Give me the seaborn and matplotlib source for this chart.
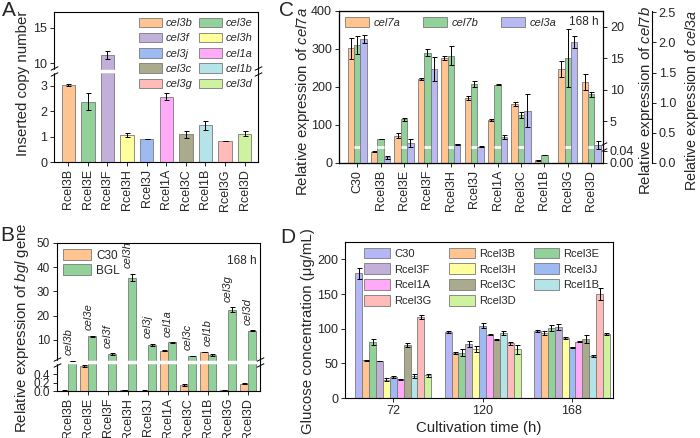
import numpy as np
import pandas as pd
import matplotlib
matplotlib.use("Agg")
import matplotlib.pyplot as plt
from matplotlib.patches import Patch
from matplotlib.path import Path
import seaborn as sns

sns.set_style("ticks")
plt.rcParams["font.family"] = ["Liberation Sans", "DejaVu Sans"]
plt.rcParams["mathtext.fontset"] = "custom"
plt.rcParams["mathtext.rm"] = "Liberation Sans"
plt.rcParams["mathtext.it"] = "Liberation Sans:italic"
plt.rcParams["axes.linewidth"] = 0.8
plt.rcParams["axes.edgecolor"] = "black"

# -----------------------------
# data
# -----------------------------
strains = ["Rcel3B", "Rcel3E", "Rcel3F", "Rcel3H", "Rcel3J",
           "Rcel1A", "Rcel3C", "Rcel1B", "Rcel3G", "Rcel3D"]
genes = ["cel3b", "cel3e", "cel3f", "cel3h", "cel3j",
         "cel1a", "cel3c", "cel1b", "cel3g", "cel3d"]
strain_colors = ["#FFC48F", "#92D29A", "#C2B0DA", "#FFFF9C", "#9DBAF2",
                 "#FFAAF6", "#AAAA8C", "#B4E3E8", "#FFBABA", "#CEF29E"]
c30_color = "#B4B6F6"

# A: inserted copy number
copy_num = [3.02, 2.37, 11.2, 1.06, 0.91, 2.57, 1.09, 1.44, 0.83, 1.12]
copy_err = [0.05, 0.32, 0.6, 0.07, 0.01, 0.15, 0.13, 0.17, 0.01, 0.08]

# B: bgl expression, 168 h
bgl_c30 = [0.01, 0.6, 0.0, 0.02, 0.01, 5.5, 0.15, 5.0, 0.02, 0.18]
bgl_c30_err = [0.005, 0.03, 0.0, 0.005, 0.005, 0.1, 0.03, 0.1, 0.01, 0.01]
bgl_bgl = [1.3, 11.4, 4.0, 35.7, 7.9, 8.9, 3.3, 3.9, 22.5, 13.8]
bgl_bgl_err = [0.05, 0.2, 0.4, 1.5, 0.4, 0.1, 0.1, 0.4, 1.0, 0.1]

# C: cellulase genes, 168 h
c_strains = ["C30"] + strains
c_genes = ["cel7a", "cel7b", "cel3a"]
cel7a = [302, 30, 72, 221, 276, 171, 113, 156, 7, 247, 213]
cel7a_err = [28, 1, 6, 2, 5, 4, 2, 5, 0.5, 22, 22]
cel7b = [17.1, 2.2, 5.3, 15.9, 15.4, 10.9, 10.8, 6.0, 0.026, 15.0, 9.3]
cel7b_err = [1.4, 0.05, 0.2, 0.5, 1.5, 0.5, 0.1, 0.5, 0.001, 4.6, 0.4]
cel3a = [2.06, 0.094, 0.33, 1.56, 0.31, 0.27, 0.43, 0.87, 0.0, 2.0, 0.30]
cel3a_err = [0.07, 0.03, 0.06, 0.2, 0.01, 0.01, 0.04, 0.28, 0.0, 0.1, 0.06]

# D: glucose concentration
times = ["72", "120", "168"]
d_strains = ["C30"] + strains
glc_72 = [180, 54.5, 80.5, 53.5, 26.5, 30, 27, 77, 32, 117, 32.8]
glc_72_err = [8, 1, 4, 0.5, 2, 1.5, 1, 3, 3, 3, 2]
glc_120 = [95.4, 65, 65, 78, 70.8, 104.6, 91.6, 84.3, 94, 79, 70]
glc_120_err = [2, 1, 5, 4, 4, 3, 1, 1, 3, 2, 6]
glc_168 = [97.3, 94, 101, 102.6, 86.7, 73, 81.4, 84.8, 60.7, 150, 92.5]
glc_168_err = [1.5, 3, 5, 4, 1, 1, 1, 6, 2, 9, 2]

EDGE = "#7a7a7a"
LABEL_FS = 10.8
brk = Path([(-1, -1.3), (1, -0.3), (-1, 0.3), (1, 1.3)],
           [Path.MOVETO, Path.LINETO, Path.MOVETO, Path.LINETO])


def broken_scale(ax, d, s):
    d = np.asarray(d, float)
    s = np.asarray(s, float)
    ax.set_yscale("function", functions=(lambda y: np.interp(y, d, s),
                                         lambda v: np.interp(v, s, d)))


def break_marks(ax, y, sides=(0, 1), line=True):
    if line:
        ax.axhline(y, color="white", lw=2.5, zorder=3)
    for xs in sides:
        ax.plot([xs], [y], marker=brk, ms=7, mew=0.7, color="black", ls="none",
                transform=ax.get_yaxis_transform(), clip_on=False, zorder=6)


def add_err(ax, container, vals, errs):
    xs = [p.get_x() + p.get_width() / 2 for p in container]
    ax.errorbar(xs, vals, yerr=errs, fmt="none", ecolor="black",
                elinewidth=0.7, capsize=1.8, capthick=0.7, zorder=5)


def style(ax):
    ax.tick_params(axis="both", direction="out", length=3, width=0.7, labelsize=9, pad=2)
    for sp in ax.spines.values():
        sp.set_linewidth(0.8)
        sp.set_color("black")


fig = plt.figure(figsize=(7, 4.38), dpi=100)
axA = fig.add_axes([0.0771, 0.630, 0.2914, 0.3425])
axB = fig.add_axes([0.0814, 0.1073, 0.29, 0.338])
axC = fig.add_axes([0.4843, 0.6279, 0.3771, 0.347])
axD = fig.add_axes([0.4929, 0.0913, 0.3829, 0.356])

# -----------------------------
# A
# -----------------------------
dfA = pd.DataFrame({"strain": strains, "gene": genes, "copies": copy_num})
sns.barplot(data=dfA, x="strain", y="copies", hue="gene", hue_order=genes,
            palette=strain_colors, saturation=1, width=0.68, errorbar=None,
            edgecolor=EDGE, linewidth=0.6, legend=False, ax=axA)
barsA = list(axA.containers)
for i, cont in enumerate(barsA):
    add_err(axA, cont, [copy_num[i]], [copy_err[i]])
broken_scale(axA, [0, 3.55, 8.9, 40], [0, 273.4, 274.4, 940])
axA.set_ylim(0, 17.25)
axA.set_yticks([0, 1, 2, 3, 10, 15])
axA.set_yticklabels(["0", "1", "2", "3", "10", "15"])
axA.set_xlim(-0.73, 9.68)
break_marks(axA, 6)
axA.set_xlabel("")
axA.set_ylabel("Inserted copy number", fontsize=LABEL_FS)
axA.yaxis.set_label_coords(-0.118, 0.527)
style(axA)
axA.tick_params(axis="x", rotation=90)
order = [0, 2, 4, 6, 8, 1, 3, 5, 7, 9]
hA = [Patch(facecolor=strain_colors[k], edgecolor=EDGE, lw=0.6) for k in order]
axA.legend(hA, [genes[k] for k in order], loc="upper right", ncol=2,
           prop={"size": 8, "style": "italic"}, handlelength=2.1, handleheight=0.95,
           labelspacing=0.42, columnspacing=0.6, handletextpad=0.3, frameon=False,
           borderaxespad=0.1)

# -----------------------------
# B
# -----------------------------
dfB = pd.DataFrame({"strain": strains * 2,
                    "series": ["C30"] * 10 + ["BGL"] * 10,
                    "expr": bgl_c30 + bgl_bgl})
sns.barplot(data=dfB, x="strain", y="expr", hue="series", hue_order=["C30", "BGL"],
            palette=["#FFC48F", "#92D29A"], saturation=1, width=0.8, errorbar=None,
            edgecolor=EDGE, linewidth=0.6, ax=axB)
barsB = list(axB.containers)
add_err(axB, barsB[0], bgl_c30, bgl_c30_err)
add_err(axB, barsB[1], bgl_bgl, bgl_bgl_err)
broken_scale(axB, [0, 0.7, 1.0, 60], [0, 29, 29.5, 172.9])
axB.set_ylim(0, 50)
axB.set_yticks([0, 0.2, 0.4, 10, 20, 30, 40, 50])
axB.set_yticklabels(["0.0", "0.2", "0.4", "10", "20", "30", "40", "50"])
axB.set_xlim(-0.56, 9.6)
break_marks(axB, 0.85)
for i, g in enumerate(genes):
    top = max(bgl_c30[i] + bgl_c30_err[i], bgl_bgl[i] + bgl_bgl_err[i])
    axB.annotate(g, (i, top), xytext=(0, 4), textcoords="offset points",
                 rotation=90, ha="center", va="bottom", fontsize=8, style="italic")
axB.set_xlabel("")
axB.set_ylabel(r"Relative expression of $\mathit{bgl}$ gene", fontsize=LABEL_FS)
axB.yaxis.set_label_coords(-0.13, 0.425)
style(axB)
axB.tick_params(axis="y", labelsize=8.5)
axB.tick_params(axis="x", rotation=90)
hB = [Patch(facecolor=c, edgecolor=EDGE, lw=0.6) for c in ["#FFC48F", "#92D29A"]]
axB.legend(hB, ["C30", "BGL"], loc="upper left", fontsize=8.5, handlelength=2.4,
           handleheight=1.1, labelspacing=0.2, handletextpad=0.4, frameon=False,
           borderaxespad=0.1)
axB.text(0.985, 0.92, "168 h", transform=axB.transAxes, ha="right", va="top", fontsize=8.5)

# -----------------------------
# C
# -----------------------------
c_pal = {"cel7a": "#FFC48F", "cel7b": "#92D29A", "cel3a": "#B8B8F2"}
dfC = pd.DataFrame({"strain": c_strains * 3,
                    "gene": ["cel7a"] * 11 + ["cel7b"] * 11 + ["cel3a"] * 11,
                    "expr": cel7a + cel7b + cel3a})
axC2 = axC.twinx()
axC3 = axC.twinx()
barsC = []
for ax, g in zip([axC, axC2, axC3], c_genes):
    sns.barplot(data=dfC[dfC["gene"] == g], x="strain", y="expr", order=c_strains,
                hue="gene", hue_order=c_genes, palette=c_pal, dodge=True,
                saturation=1, width=0.82, errorbar=None, edgecolor=EDGE,
                linewidth=0.6, legend=False, ax=ax)
    barsC.append(next(c for c in ax.containers if len(c) == len(c_strains)))
add_err(axC, barsC[0], cel7a, cel7a_err)
add_err(axC2, barsC[1], cel7b, cel7b_err)
add_err(axC3, barsC[2], cel3a, cel3a_err)

axC.set_ylim(0, 400)
axC.set_yticks([0, 100, 200, 300, 400])
broken_scale(axC2, [0, 0.053, 1.0, 40], [0, 16, 16.5, 262.2])
axC2.set_ylim(0, 22.5)
axC2.set_yticks([0, 0.04, 5, 10, 15, 20])
axC2.set_yticklabels(["0.00", "0.04", "5", "10", "15", "20"])
for p in barsC[1]:
    if p.get_height() > 1:
        axC2.hlines(0.5, p.get_x(), p.get_x() + p.get_width(), color="white", lw=2, zorder=3)
break_marks(axC2, 0.5, sides=(1,), line=False)
axC3.set_ylim(0, 2.52)
axC3.set_yticks([0, 0.5, 1.0, 1.5, 2.0, 2.5])
axC3.spines["right"].set_position(("axes", 1.185))
axC.set_xlim(-0.78, 10.5)
for ax in (axC, axC2, axC3):
    ax.set_xlabel("")
    style(ax)
axC.tick_params(axis="x", rotation=90)
axC.set_ylabel(r"Relative expression of $\mathit{cel7a}$", fontsize=LABEL_FS)
axC.yaxis.set_label_coords(-0.103, 0.405)
axC2.set_ylabel(r"Relative expression of $\mathit{cel7b}$", fontsize=LABEL_FS)
axC2.yaxis.set_label_coords(1.127, 0.414)
axC3.set_ylabel(r"Relative expression of $\mathit{cel3a}$", fontsize=10.4)
axC3.yaxis.set_label_coords(1.302, 0.414)
hC = [Patch(facecolor=c_pal[g], edgecolor=EDGE, lw=0.6) for g in c_genes]
axC3.legend(hC, c_genes, loc="upper left", ncol=3, prop={"size": 8, "style": "italic"},
            handlelength=2.2, handleheight=1.1, columnspacing=2.0, handletextpad=0.4,
            frameon=False, borderaxespad=0.1)
axC3.text(0.985, 0.965, "168 h", transform=axC3.transAxes, ha="right", va="top", fontsize=8.5)

# -----------------------------
# D
# -----------------------------
dfD = pd.DataFrame({"time": [t for t in times for _ in d_strains],
                    "strain": d_strains * 3,
                    "glc": glc_72 + glc_120 + glc_168})
d_colors = [c30_color] + strain_colors
sns.barplot(data=dfD, x="time", y="glc", order=times, hue="strain", hue_order=d_strains,
            palette=d_colors, saturation=1, width=0.85, errorbar=None,
            edgecolor=EDGE, linewidth=0.6, ax=axD)
barsD = list(axD.containers)
for i, cont in enumerate(barsD):
    add_err(axD, cont, [glc_72[i], glc_120[i], glc_168[i]],
            [glc_72_err[i], glc_120_err[i], glc_168_err[i]])
axD.set_ylim(0, 225)
axD.set_yticks([0, 50, 100, 150, 200])
axD.set_xlim(-0.54, 2.46)
axD.set_xlabel("Cultivation time (h)", fontsize=LABEL_FS, labelpad=3)
axD.set_ylabel("Glucose concentration (μg/mL)", fontsize=LABEL_FS)
axD.yaxis.set_label_coords(-0.112, 0.43)
style(axD)
orderD = [0, 3, 6, 9, 1, 4, 7, 10, 2, 5, 8]
hD = [Patch(facecolor=d_colors[k], edgecolor=EDGE, lw=0.6) for k in orderD]
axD.legend(hD, [d_strains[k] for k in orderD], loc="upper left", bbox_to_anchor=(0.05, 1.0),
           ncol=3, fontsize=8, handlelength=2.3, handleheight=1.1, labelspacing=0.42,
           columnspacing=1.6, handletextpad=0.4, frameon=False, borderaxespad=0.1)

# panel letters
fig.text(0.003, 0.997, "A", fontsize=15, va="top")
fig.text(0.0, 0.485, "B", fontsize=15, va="top")
fig.text(0.398, 0.997, "C", fontsize=15, va="top")
fig.text(0.4, 0.48, "D", fontsize=15, va="top")

fig.savefig("out.png", dpi=100)
